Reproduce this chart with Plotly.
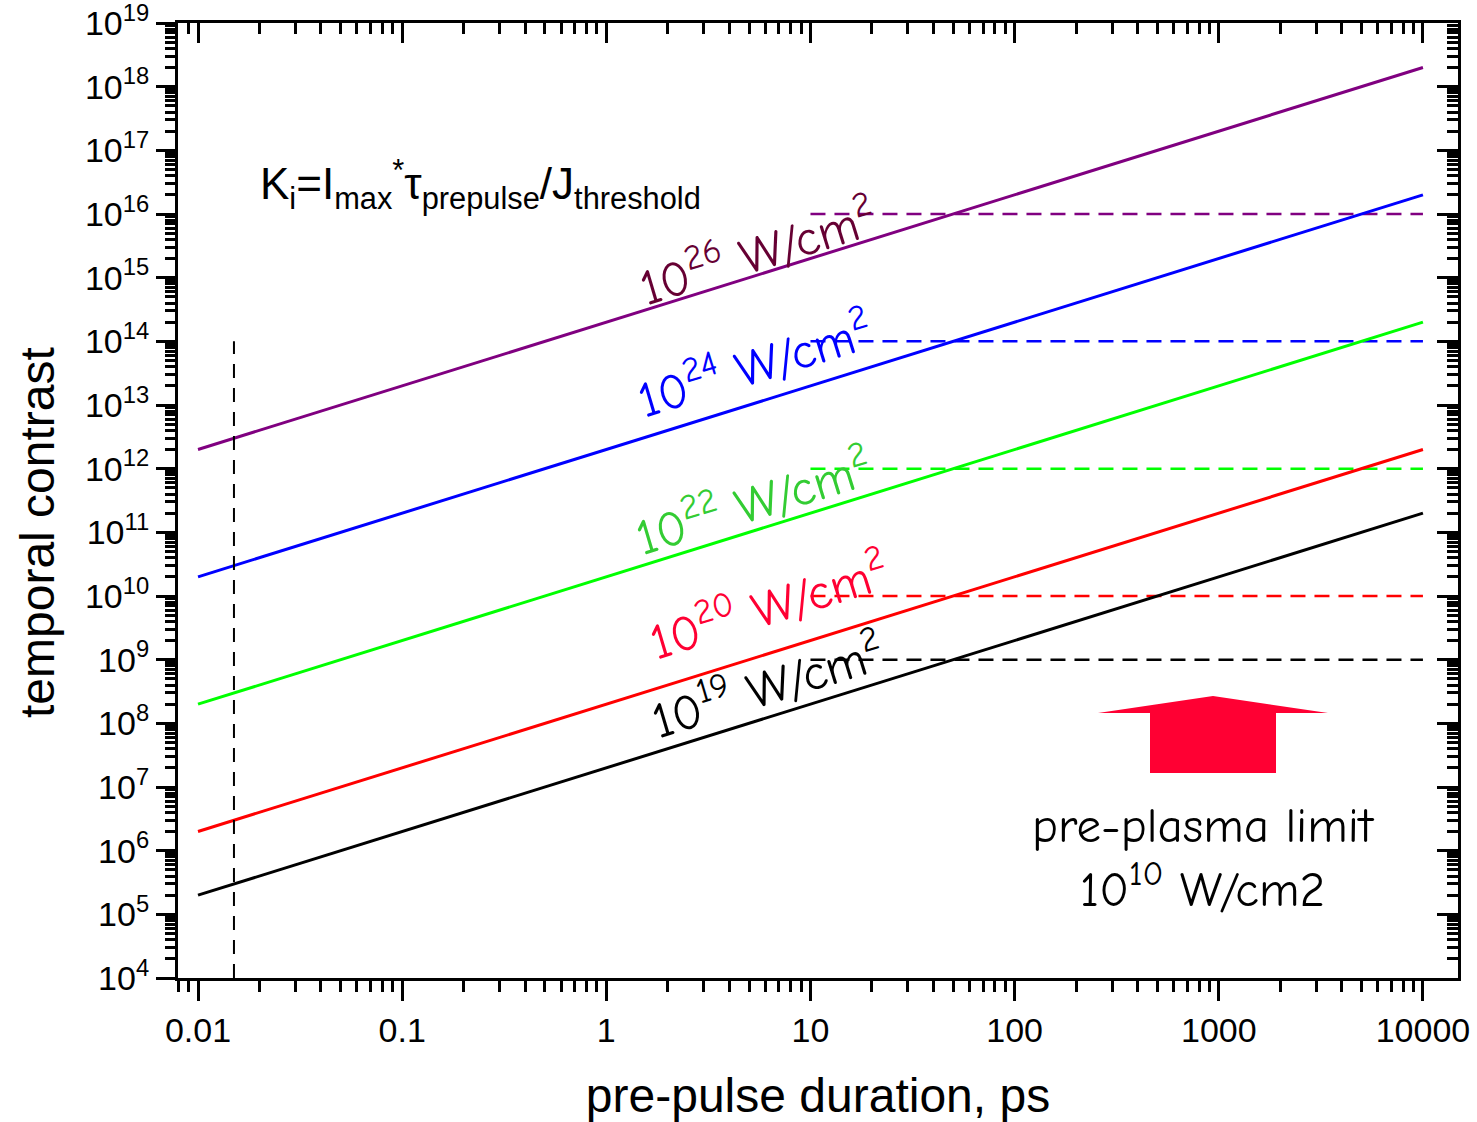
import math
import plotly.graph_objects as go

# ---------------- data ----------------
durations = [0.01, 10000]                     # ps
contrast_1e26 = [2e12, 2e18]
contrast_1e24 = [2e10, 2e16]
contrast_1e22 = [2e8, 2e14]
contrast_1e20 = [2e6, 2e12]
contrast_1e19 = [2e5, 2e11]

limit_durations = [10, 10000]
limit_1e26 = [1e16, 1e16]
limit_1e24 = [1e14, 1e14]
limit_1e22 = [1e12, 1e12]
limit_1e20 = [1e10, 1e10]
limit_1e19 = [1e9, 1e9]

marker_duration = [0.015, 0.015]
marker_contrast = [1e4, 1e14]

x_tick_vals = [0.01, 0.1, 1, 10, 100, 1000, 10000]
x_tick_text = ["0.01", "0.1", "1", "10", "100", "1000", "10000"]
y_exponents = list(range(4, 20))
y_tick_vals = [10 ** e for e in y_exponents]
y_tick_text = ["10<sup>%d</sup>" % e for e in y_exponents]

label_texts = ["10<sup>26</sup> W/cm<sup>2</sup>", "10<sup>24</sup> W/cm<sup>2</sup>",
               "10<sup>22</sup> W/cm<sup>2</sup>", "10<sup>20</sup> W/cm<sup>2</sup>",
               "10<sup>19</sup> W/cm<sup>2</sup>"]

# ---------------- layout geometry ----------------
W, H = 1477, 1122
ML, MR, MT, MB = 178, 19, 23, 144
x_range = [math.log10(0.00798), math.log10(14850)]
y_range = [4 - 1e-6, 19 + 1e-6]

x_minor = [m * 10 ** e for e in range(-3, 5) for m in range(2, 10)]
x_minor = [v for v in x_minor if 10 ** x_range[0] <= v <= 10 ** x_range[1]]
y_minor = [m * 10 ** e for e in range(4, 19) for m in range(2, 10)]

def paper(px, py):
    return ((px - ML) / (W - ML - MR), (H - MB - py) / (H - MT - MB))

COMIC = "Comic Sans MS, Comic Neue, Lato, sans-serif"
ARIAL = "Arial, Liberation Sans, Helvetica, sans-serif"

fig = go.Figure()

series = [
    (contrast_1e26, limit_1e26, "#800080"),
    (contrast_1e24, limit_1e24, "#0000FF"),
    (contrast_1e22, limit_1e22, "#00FF00"),
    (contrast_1e20, limit_1e20, "#FF0000"),
    (contrast_1e19, limit_1e19, "#000000"),
]
for vals, lim, col in series:
    fig.add_trace(go.Scatter(x=durations, y=vals, mode="lines",
                             line=dict(color=col, width=3), showlegend=False))
    fig.add_trace(go.Scatter(x=limit_durations, y=lim, mode="lines",
                             line=dict(color=col, width=2.5, dash="15px,9px"),
                             showlegend=False))

fig.add_trace(go.Scatter(x=marker_duration, y=marker_contrast, mode="lines",
                         line=dict(color="black", width=2, dash="14px,10px"),
                         showlegend=False))
# dummy trace for the mirrored axes
fig.add_trace(go.Scatter(x=durations, y=contrast_1e19, xaxis="x2", yaxis="y2",
                         mode="lines", line=dict(width=0), opacity=0,
                         showlegend=False, hoverinfo="skip"))

common = dict(type="log", showgrid=False, zeroline=False, linecolor="black",
              linewidth=3, tickcolor="black", tickwidth=3, automargin=False)

fig.update_layout(
    width=W, height=H, plot_bgcolor="white", paper_bgcolor="white",
    margin=dict(l=ML, r=MR, t=MT, b=MB, autoexpand=False),
    xaxis=dict(**common, range=x_range, side="bottom", showline=True, mirror=True,
               ticks="outside", ticklen=20, tickmode="array",
               tickvals=x_tick_vals, ticktext=x_tick_text,
               tickfont=dict(family=ARIAL, size=34, color="black"),
               ticklabeloverflow="allow",
               minor=dict(tickmode="array", tickvals=x_minor, ticks="outside",
                          ticklen=11, tickwidth=3, tickcolor="black"),
               title=dict(text="pre-pulse duration, ps",
                          font=dict(family=ARIAL, size=48, color="black"),
                          standoff=32)),
    xaxis2=dict(**common, range=x_range, side="top", overlaying="x", anchor="y",
                showline=False, ticks="inside", ticklen=20, tickmode="array",
                tickvals=x_tick_vals, showticklabels=False,
                minor=dict(tickmode="array", tickvals=x_minor, ticks="inside",
                           ticklen=11, tickwidth=3, tickcolor="black")),
    yaxis=dict(**common, range=y_range, side="left", showline=True, mirror=True,
               ticks="outside", ticklen=19, tickmode="array",
               tickvals=y_tick_vals, ticktext=y_tick_text,
               tickfont=dict(family=ARIAL, size=34, color="black"),
               ticklabeloverflow="allow",
               minor=dict(tickmode="array", tickvals=y_minor, ticks="outside",
                          ticklen=10, tickwidth=3, tickcolor="black")),
    yaxis2=dict(**common, range=y_range, side="right", overlaying="y", anchor="x",
                showline=False, ticks="inside", ticklen=21, tickmode="array",
                tickvals=y_tick_vals, showticklabels=False,
                minor=dict(tickmode="array", tickvals=y_minor, ticks="inside",
                           ticklen=11, tickwidth=3, tickcolor="black")),
)

# y-axis title (placed like the reference, slightly below the plot centre)
tx, ty = paper(37, 533)
fig.add_annotation(x=tx, y=ty, xref="paper", yref="paper", text="temporal contrast",
                   textangle=-90, showarrow=False, xanchor="center", yanchor="middle",
                   font=dict(family=ARIAL, size=48, color="black"))

# rotated intensity labels (positions in log10 units)
label_pos = [(0.742, 15.43), (0.723, 13.66), (0.718, 11.51), (0.796, 9.87), (0.787, 8.62)]
label_colors = ["#660033", "#0000FF", "#33CC33", "#FF0033", "#000000"]
angle = -math.degrees(math.atan((H - MT - MB) / 15 / ((W - ML - MR) / (x_range[1] - x_range[0]))))
for txt, (lx, ly), col in zip(label_texts, label_pos, label_colors):
    fig.add_annotation(x=lx, y=ly, xref="x", yref="y", text=txt, showarrow=False,
                       textangle=angle, font=dict(family=COMIC, size=50, color=col),
                       xanchor="center", yanchor="middle")

# formula
fx, fy = paper(258, 184)
fig.add_annotation(x=fx, y=fy, xref="paper", yref="paper", xanchor="left", yanchor="middle",
                   text="K<sub>i</sub>=I<sub>max</sub><sup>*</sup>τ<sub>prepulse</sub>/J<sub>threshold</sub>",
                   showarrow=False, font=dict(family=ARIAL, size=44, color="black"))

# pre-plasma limit text
tx, ty = paper(1203, 858)
fig.add_annotation(x=tx, y=ty, xref="paper", yref="paper",
                   text="pre-plasma limit<br>10<sup>10</sup> W/cm2", showarrow=False,
                   xanchor="center", yanchor="middle", align="center",
                   font=dict(family=COMIC, size=49, color="black"))

# block arrow
arrow_px = [(1213, 696), (1328, 713), (1276, 713), (1276, 773),
            (1150, 773), (1150, 713), (1098, 713)]
pts = [paper(px, py) for px, py in arrow_px]
path = "M " + " L ".join("%.5f,%.5f" % p for p in pts) + " Z"
fig.add_shape(type="path", path=path, xref="paper", yref="paper",
              fillcolor="#FF0033", line=dict(width=0))

fig.write_html("out.html")
